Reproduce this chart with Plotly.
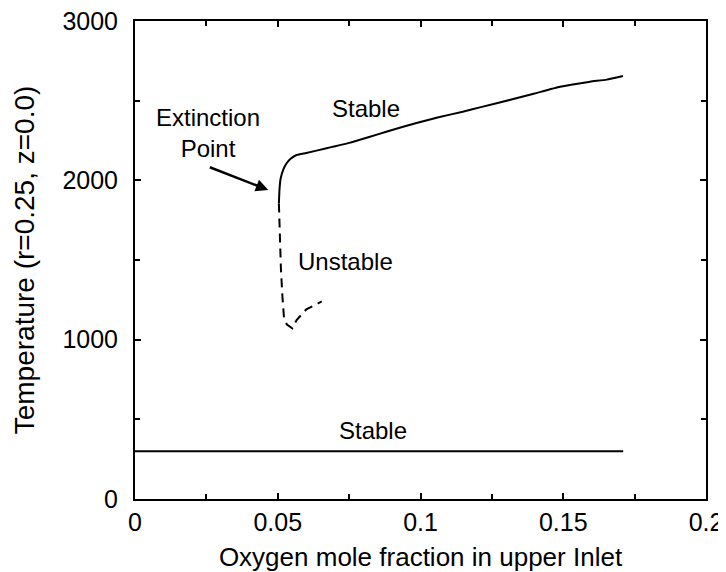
import plotly.graph_objects as go

# Upper stable branch
upper_x = [0.0504, 0.0506, 0.0510, 0.0520, 0.0531, 0.0545, 0.0566, 0.0600, 0.0671, 0.0750,
           0.0820, 0.0880, 0.0986, 0.1067, 0.1148, 0.1208, 0.1325, 0.1400, 0.1489, 0.1594,
           0.1652, 0.1709]
upper_T = [1855, 1939, 2010, 2070, 2107, 2135, 2159, 2172, 2201, 2235,
           2272, 2305, 2360, 2398, 2430, 2458, 2510, 2545, 2587, 2619,
           2632, 2655]

# Unstable (middle) branch
unstable_x = [0.0504, 0.0507, 0.0511, 0.0516, 0.0522, 0.0532, 0.0551, 0.0566, 0.0600, 0.0654]
unstable_T = [1855, 1650, 1450, 1280, 1134, 1095, 1071, 1123, 1190, 1240]

# Lower stable branch
lower_x = [0.0, 0.171]
lower_T = [300, 300]

x_ticks = [0, 0.05, 0.1, 0.15, 0.2]
x_ticklabels = ["0", "0.05", "0.1", "0.15", "0.2"]
y_ticks = [0, 1000, 2000, 3000]
y_ticklabels = ["0", "1000", "2000", "3000"]

FONT = "Liberation Sans, Arial, Helvetica, sans-serif"

fig = go.Figure()
fig.add_trace(go.Scatter(x=upper_x, y=upper_T, mode="lines",
                         line=dict(color="black", width=2, shape="spline", smoothing=0.4),
                         showlegend=False))
fig.add_trace(go.Scatter(x=unstable_x, y=unstable_T, mode="lines",
                         line=dict(color="black", width=2, dash="9px,6px"), showlegend=False))
fig.add_trace(go.Scatter(x=lower_x, y=lower_T, mode="lines",
                         line=dict(color="black", width=2), showlegend=False))

ann_font = dict(family=FONT, size=24, color="black")
fig.add_annotation(x=0.0809, y=2450, text="Stable", showarrow=False, font=ann_font)
fig.add_annotation(x=0.0254, y=2294, text="Extinction<br>Point", showarrow=False, font=ann_font)
fig.add_annotation(x=0.0736, y=1489, text="Unstable", showarrow=False, font=ann_font)
fig.add_annotation(x=0.0832, y=430, text="Stable", showarrow=False, font=ann_font)
fig.add_annotation(x=0.0467, y=1939, ax=0.0257, ay=2086, xref="x", yref="y",
                   axref="x", ayref="y", text="", showarrow=True,
                   arrowhead=2, arrowsize=1, arrowwidth=2.5, arrowcolor="black")

# page body adds an 8px offset; figure sized to fill the rest of the window
fig.update_layout(
    width=718, height=564,
    margin=dict(l=127, r=20, t=13, b=73),
    paper_bgcolor="white", plot_bgcolor="white",
    font=dict(family=FONT, size=25, color="black"),
    xaxis=dict(range=[0, 0.2], tickvals=x_ticks, ticktext=x_ticklabels,
               ticks="inside", ticklen=6, tickwidth=1.5, tickcolor="black",
               showline=True, linecolor="black", linewidth=2, mirror="ticks",
               showgrid=False, zeroline=False, automargin=False,
               ticklabeloverflow="allow",
               tickfont=dict(family=FONT, size=25),
               minor=dict(dtick=0.025, tick0=0, ticks="inside", ticklen=5,
                          tickwidth=1.5, tickcolor="black", showgrid=False),
               title=dict(text="Oxygen mole fraction in upper Inlet",
                          font=dict(family=FONT, size=26), standoff=17)),
    yaxis=dict(range=[0, 3000], tickvals=y_ticks, ticktext=y_ticklabels,
               ticks="inside", ticklen=6, tickwidth=1.5, tickcolor="black",
               showline=True, linecolor="black", linewidth=2, mirror="ticks",
               showgrid=False, zeroline=False, ticklabelstandoff=10,
               automargin=False, ticklabeloverflow="allow",
               tickfont=dict(family=FONT, size=25),
               minor=dict(dtick=500, tick0=0, ticks="inside", ticklen=5,
                          tickwidth=1.5, tickcolor="black", showgrid=False),
               title=dict(text="Temperature (r=0.25, z=0.0)",
                          font=dict(family=FONT, size=28), standoff=20)),
)

fig.write_html("out.html")
